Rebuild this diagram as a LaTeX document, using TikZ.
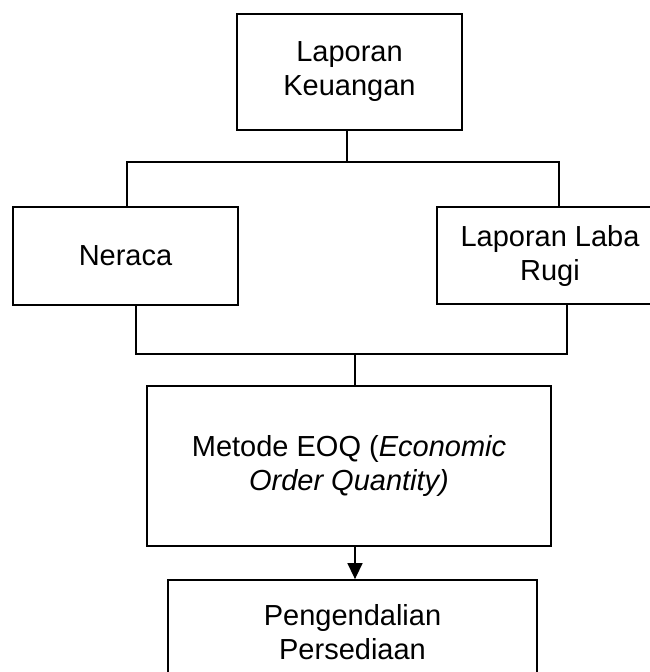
\documentclass[tikz,border=0pt]{standalone}
\usepackage{fontspec}
\setmainfont{Liberation Sans}
\usetikzlibrary{arrows.meta}
\begin{document}
\begin{tikzpicture}[x=1pt,y=1pt,
  box/.style={draw=black, line width=1.8pt, rectangle, align=center, inner sep=0pt,
    font=\fontsize{29}{34}\selectfont},
  conn/.style={draw=black, line width=1.5pt}]
\useasboundingbox (0,0) rectangle (649,-672);
\node[box, minimum width=225, minimum height=116] (top) at (349.5,-72) {Laporan\\Keuangan};
\node[box, minimum width=225, minimum height=98] (left) at (125.5,-256) {Neraca};
\node[box, minimum width=226, minimum height=97] (right) at (550,-255.5) {Laporan Laba\\Rugi};
\node[box, minimum width=404, minimum height=160] (mid) at (349,-466) {Metode EOQ (\textit{Economic}\\\textit{Order Quantity)}};
\node[box, minimum width=369, minimum height=104] (bot) at (352.5,-632) {Pengendalian\\Persediaan};
\coordinate (j1) at (347,-162);
\coordinate (bl) at (127,-162);
\coordinate (br) at (559,-162);
\coordinate (cl) at (136,-354);
\coordinate (cr) at (567,-354);
\coordinate (cm) at (355,-354);
\draw[conn] (top.south -| j1) -- (j1);
\draw[conn] (left.north -| bl) -- (bl) -- (br) -- (right.north -| br);
\draw[conn] (left.south -| cl) -- (cl) -- (cr) -- (right.south -| cr);
\draw[conn] (cm) -- (mid.north -| cm);
\draw[conn, -{Triangle[length=16pt,width=15pt]}] (mid.south -| cm) -- (bot.north -| cm);
\end{tikzpicture}
\end{document}
